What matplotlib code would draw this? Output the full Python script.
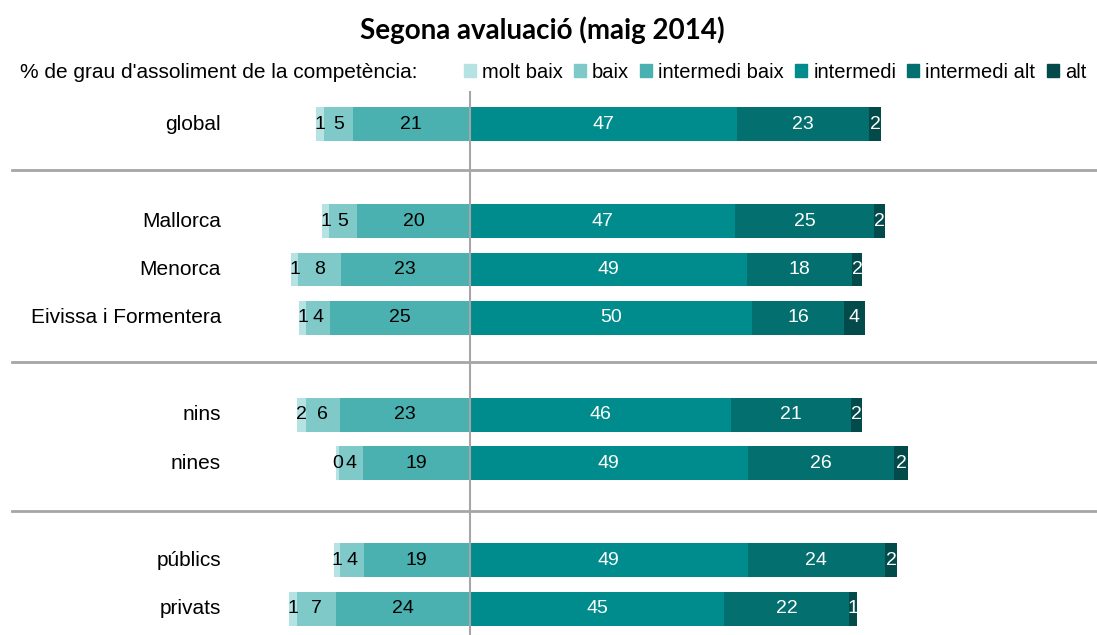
import numpy as np
import matplotlib.pyplot as plt
from matplotlib.patches import Patch

categories = ["global", "Mallorca", "Menorca", "Eivissa i Formentera",
              "nins", "nines", "públics", "privats"]
row_pos = [0, 2, 3, 4, 6, 7, 9, 10]
separators = [0.95, 4.9, 7.98]

levels = ["molt baix", "baix", "intermedi baix", "intermedi", "intermedi alt", "alt"]
colors = ["#b5e3e3", "#80c9c9", "#4bb0b0", "#008c8c", "#046f6f", "#034a4a"]

# left side (below intermedi)
molt_baix = [1.4, 1.2, 1.1, 1.2, 1.6, 0.4, 1.0, 1.4]
baix = [5.1, 5.0, 7.6, 4.2, 6.0, 4.3, 4.2, 6.8]
intermedi_baix = [20.6, 19.8, 22.7, 24.6, 22.9, 18.8, 18.7, 23.6]
# right side
intermedi = [47.0, 46.6, 48.8, 49.6, 46.0, 48.9, 48.9, 44.8]
intermedi_alt = [23.3, 24.6, 18.4, 16.3, 21.1, 25.8, 24.2, 21.9]
alt = [2.1, 1.8, 1.9, 3.6, 2.0, 2.4, 2.1, 1.4]

plt.rcParams["font.family"] = ["Liberation Sans", "DejaVu Sans"]

fig = plt.figure(figsize=(10.97, 6.35), dpi=100)
ax = fig.add_axes([0, 0, 1, 1])
ax.axis("off")

y = np.array(row_pos)
h = 0.7

# left stacks, drawn outward from 0
left_series = [intermedi_baix, baix, molt_baix]
left_cols = [colors[2], colors[1], colors[0]]
start = np.zeros(len(categories))
for vals, col in zip(left_series, left_cols):
    v = np.array(vals, dtype=float)
    ax.barh(y, -v, left=-start, height=h, color=col, zorder=2)
    for yi, s, vi in zip(y, start, v):
        ax.text(-(s + vi / 2), yi, f"{vi:.0f}", ha="center", va="center",
                fontsize=14, color="black", zorder=4)
    start = start + v

right_series = [intermedi, intermedi_alt, alt]
right_cols = colors[3:]
start = np.zeros(len(categories))
for vals, col in zip(right_series, right_cols):
    v = np.array(vals, dtype=float)
    ax.barh(y, v, left=start, height=h, color=col, zorder=2)
    for yi, s, vi in zip(y, start, v):
        ax.text(s + vi / 2, yi, f"{vi:.0f}", ha="center", va="center",
                fontsize=14, color="white", zorder=4)
    start = start + v

# center line and group separators
ax.plot([0, 0], [-0.66, 10.6], color="#a6a6a6", lw=1.5, zorder=3)
for s in separators:
    ax.plot([-80.6, 110.4], [s, s], color="#a6a6a6", lw=2, zorder=1)

for yi, c in zip(y, categories):
    ax.text(-43.8, yi, c, ha="right", va="center", fontsize=15)

ax.set_xlim(-82.7, 110.4)
ax.set_ylim(10.54, -2.56)

fig.text(0.494, 0.953, "Segona avaluació (maig 2014)", ha="center", va="center",
         fontsize=20, fontweight="bold", family=["Lato", "DejaVu Sans"])
fig.text(0.018, 0.886, "% de grau d'assoliment de la competència:",
         ha="left", va="center", fontsize=15)

handles = [Patch(color=c, label=l) for c, l in zip(colors, levels)]
fig.legend(handles=handles, ncol=6, loc="center right",
           bbox_to_anchor=(0.99, 0.886), frameon=False, fontsize=14.5,
           handlelength=0.6, handleheight=0.6, handletextpad=0.3,
           columnspacing=0.55, borderaxespad=0, borderpad=0)

plt.savefig("out.png", dpi=100)
